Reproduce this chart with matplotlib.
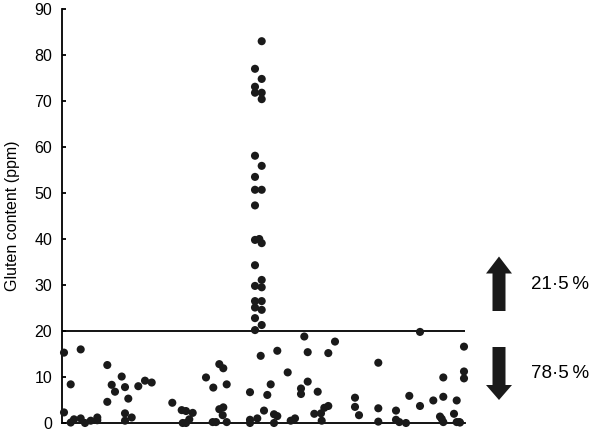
import matplotlib
matplotlib.use("Agg")
import matplotlib.pyplot as plt
from matplotlib.patches import FancyArrow

plt.rcParams['font.family'] = ['Liberation Sans', 'DejaVu Sans']

# Sample positions (arbitrary horizontal order) and gluten content (ppm)
low_x = [2, 2, 8.7, 8.7, 12, 18.7, 18.7, 23, 28.7, 35.3, 35.3, 45.3, 45.3, 49.7, 53,
         59.7, 63, 63, 63, 66.3, 69.7, 76.3, 83, 89.7, 110.3, 119.7, 124, 130.7, 127.3,
         120.7, 124, 144, 151.3, 157.3, 161.3, 164.7, 157.3, 161.3, 160.7, 164.7, 150.7,
         154, 188, 188, 188, 195.3, 198.7, 202, 205.3, 208.7, 212, 215.3, 212, 215.3,
         225.7, 228.7, 233, 239, 239, 242.3, 245.7, 245.7, 252.3, 255.7, 259, 259.7,
         262.3, 266.3, 266.3, 273, 293, 293, 297, 316.3, 316.3, 316.3, 334, 334, 337.3,
         344, 347.3, 358, 358, 371.3, 378, 379.7, 381.3, 381.3, 381.3, 392, 394.7, 394.7,
         397.3, 398, 402, 402, 402]
low_y = [15.3, 2.3, 8.4, 0.1, 0.8, 16.0, 1.0, 0, 0.5, 1.2, 0.6, 12.6, 4.6, 8.3, 6.8,
         10.1, 7.8, 2.1, 0.5, 5.3, 1.2, 8.0, 9.2, 8.8, 4.4, 2.8, 2.6, 2.2, 0.8,
         0, 0, 9.9, 7.7, 12.8, 11.9, 8.4, 3.0, 3.4, 1.7, 0.2, 0.2,
         0.2, 6.7, 0.7, 0, 1.0, 14.6, 2.7, 6.1, 8.4, 1.9, 1.5, 0, 15.7,
         11.0, 0.5, 1.0, 7.5, 6.3, 18.8, 15.4, 9.0, 2.0, 6.8, 2.1, 0.5,
         3.3, 3.7, 15.2, 17.7, 5.5, 3.5, 1.7, 13.1, 3.2, 0.3, 2.7, 0.7, 0.2,
         0, 5.9, 19.8, 3.7, 4.9, 1.4, 0.9, 0.2, 9.9, 5.7, 2.0, 4.9, 0.2,
         0.2, 0.1, 16.6, 11.2, 9.7]

high_x = [199.7, 193, 199.7, 193, 193, 199.7, 199.7, 193, 199.7, 193, 193, 199.7, 193,
          193, 197.3, 199.7, 193, 199.7, 193, 199.7, 193, 199.7, 193, 199.7, 193, 199.7, 193]
high_y = [83.0, 77.0, 74.8, 73.1, 71.8, 71.8, 70.4, 58.1, 55.9, 53.5, 50.7, 50.7, 47.3,
          39.8, 40.0, 39.1, 34.3, 31.1, 29.8, 29.5, 26.5, 26.5, 25.1, 24.6, 22.8, 21.3, 20.2]

threshold = 20
y_ticks = [0, 10, 20, 30, 40, 50, 60, 70, 80, 90]
pct_above = "21·5\u2009%"
pct_below = "78·5\u2009%"

W, H = 590, 433
fig = plt.figure(figsize=(W / 100, H / 100), dpi=100)
ax = fig.add_axes([62 / W, 10 / H, 403 / W, 414 / H])

ax.scatter(low_x + high_x, low_y + high_y, s=34, color='#1a1a1a', edgecolors='none',
           clip_on=False, zorder=3)
ax.axhline(threshold, color='black', lw=1.3, zorder=2)

ax.set_xlim(0, 403)
ax.set_ylim(0, 90)
ax.set_yticks(y_ticks)
ax.set_xticks([])
for s in ['top', 'right']:
    ax.spines[s].set_visible(False)
ax.spines['left'].set_linewidth(1.3)
ax.spines['bottom'].set_linewidth(1.3)
ax.tick_params(axis='y', direction='in', length=3, width=1.3, pad=7, labelsize=11.5)
ax.set_ylabel("Gluten content (ppm)", fontsize=11.5)
ax.yaxis.set_label_coords(-0.105, 0.5)

# Overlay in pixel coordinates for arrows and percentages
ov = fig.add_axes([0, 0, 1, 1])
ov.set_xlim(0, W)
ov.set_ylim(H, 0)
ov.axis('off')
ov.add_patch(FancyArrow(499, 311, 0, -54.5, width=13, head_width=26, head_length=17,
                        length_includes_head=True, color='#1a1a1a', lw=0))
ov.add_patch(FancyArrow(499, 347, 0, 53, width=13, head_width=26, head_length=15,
                        length_includes_head=True, color='#1a1a1a', lw=0))
ov.text(531, 284.5, pct_above, fontsize=13.5, va='center', ha='left')
ov.text(531, 374, pct_below, fontsize=13.5, va='center', ha='left')

fig.savefig("out.png", dpi=100)
